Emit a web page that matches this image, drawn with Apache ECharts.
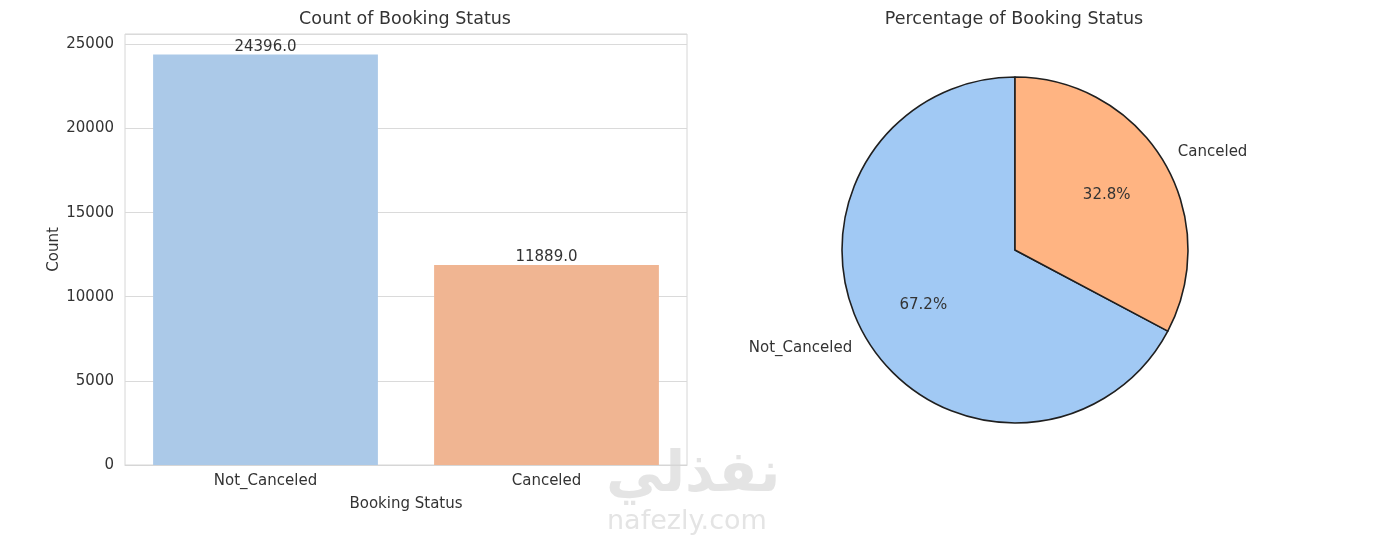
<!DOCTYPE html>
<html>
<head>
<meta charset="utf-8">
<script src="https://cdn.jsdelivr.net/npm/echarts@6/dist/echarts.min.js"></script>
<style>html,body{margin:0;padding:0;background:#fff;}#c{width:1380px;height:538px;}</style>
</head>
<body>
<div id="c"></div>
<script>
const categories = ['Not_Canceled', 'Canceled'];
const counts = [24396, 11889];
const pctLabels = ['67.2%', '32.8%'];
const yTicks = [0, 5000, 10000, 15000, 20000, 25000];
const barColors = ['#abc9e8', '#f0b592'];
const pieColors = ['#a1c9f4', '#ffb482'];

const FONT = 'DejaVu Sans';
const TXT = '#333333';
const chart = echarts.init(document.getElementById('c'));
chart.setOption({
  animation: false,
  backgroundColor: '#ffffff',
  textStyle: { fontFamily: FONT },
  title: [
    { text: 'Count of Booking Status', left: 400, top: 5, textAlign: 'center',
      textStyle: { fontFamily: FONT, fontSize: 17.5, fontWeight: 'normal', color: TXT } },
    { text: 'Percentage of Booking Status', left: 1009, top: 5, textAlign: 'center',
      textStyle: { fontFamily: FONT, fontSize: 17.5, fontWeight: 'normal', color: TXT } }
  ],
  grid: { left: 125, right: 693, top: 34, bottom: 73, show: true, borderColor: '#d6d6d6', borderWidth: 1, containLabel: false },
  xAxis: {
    type: 'category', data: categories,
    name: 'Booking Status', nameLocation: 'middle', nameGap: 32,
    nameTextStyle: { fontFamily: FONT, fontSize: 15, color: TXT },
    axisLine: { show: true, lineStyle: { color: '#d6d6d6' } },
    axisTick: { show: false },
    axisLabel: { fontFamily: FONT, fontSize: 15, color: TXT, margin: 9 }
  },
  yAxis: {
    type: 'value', min: 0, max: counts[0] * 1.05, interval: 5000,
    name: 'Count', nameLocation: 'middle', nameGap: 63,
    nameTextStyle: { fontFamily: FONT, fontSize: 15, color: TXT },
    axisLine: { show: false }, axisTick: { show: false },
    axisLabel: { fontFamily: FONT, fontSize: 15, color: TXT, margin: 11, showMaxLabel: false,
      formatter: v => yTicks.includes(v) ? String(v) : '' },
    splitLine: { lineStyle: { color: '#dadada', width: 1 } }
  },
  series: [
    {
      type: 'bar', barCategoryGap: '20%',
      data: counts.map((v, i) => ({ value: v, itemStyle: { color: barColors[i] } })),
      label: { show: true, position: 'top', distance: 0, fontFamily: FONT, fontSize: 15, color: TXT,
        formatter: p => p.value.toFixed(1) }
    },
    {
      type: 'pie', center: [1015, 250], radius: [0, 173], startAngle: 90, clockwise: false,
      data: categories.map((c, i) => ({ name: c, value: counts[i], itemStyle: { color: pieColors[i] } })),
      itemStyle: { borderColor: '#1f1f1f', borderWidth: 1.6 },
      label: { show: true, position: 'outside', fontFamily: FONT, fontSize: 15, color: TXT,
        formatter: '{b}', distanceToLabelLine: 0 },
      labelLine: { show: false, length: 17, length2: 0 },
      emphasis: { disabled: true }
    },
    {
      type: 'pie', center: [1015, 250], radius: [60, 148], startAngle: 90, clockwise: false, silent: true,
      data: categories.map((c, i) => ({ name: c, value: counts[i], itemStyle: { color: 'rgba(0,0,0,0)' } })),
      itemStyle: { borderWidth: 0 },
      label: { show: true, position: 'inside', fontFamily: FONT, fontSize: 15, color: TXT,
        formatter: p => pctLabels[p.dataIndex] },
      labelLine: { show: false }
    }
  ],
  graphic: [
    { type: 'text', left: 606, top: 446, style: { text: 'نفذلي', font: 'bold 57px "Noto Sans", "DejaVu Sans"', fill: '#e4e4e4' }, z: -1 },
    { type: 'text', left: 607, top: 508, style: { text: 'nafezly.com', font: '27px "DejaVu Sans"', fill: '#e4e4e4' }, z: -1 }
  ]
});
</script>
</body>
</html>
